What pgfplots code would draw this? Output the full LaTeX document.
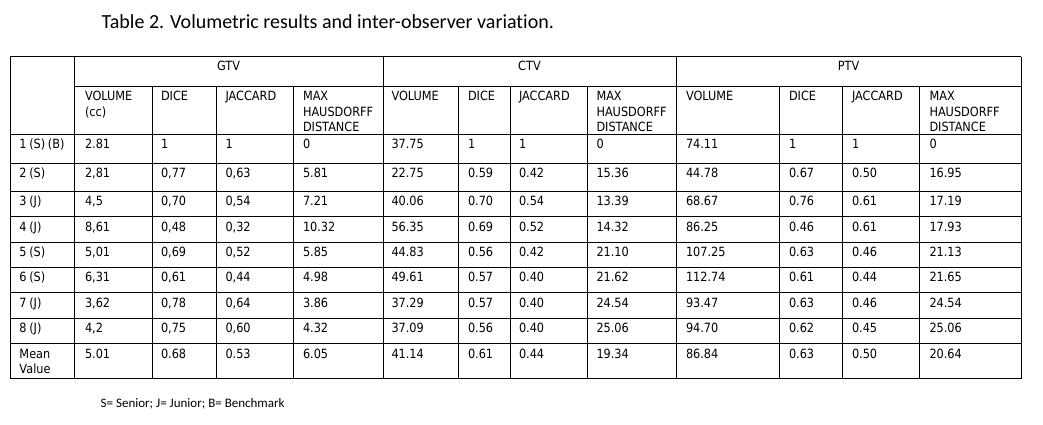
\documentclass[border=0pt]{standalone}
\usepackage{fontspec}
\usepackage{pgfplots}
\usepackage{pgfplotstable}
\pgfplotsset{compat=1.18}
\setmainfont{DejaVu Sans}[FakeStretch=0.89]
\newfontfamily\titlefont{Carlito}[Ligatures=NoCommon]
\newcommand\cellfont{\fontsize{12.7}{15}\selectfont\spaceskip=2.6pt plus 1pt}

\pgfplotstableread[col sep=semicolon,row sep=\\]{
y;c0;g1;g2;g3;g4;c1;c2;c3;c4;p1;p2;p3;p4\\
148.5;1 (S) (B);2.81;1;1;0;37.75;1;1;0;74.11;1;1;0\\
177.5;2 (S);2,81;0,77;0,63;5.81;22.75;0.59;0.42;15.36;44.78;0.67;0.50;16.95\\
205.5;3 (J);4,5;0,70;0,54;7.21;40.06;0.70;0.54;13.39;68.67;0.76;0.61;17.19\\
231;4 (J);8,61;0,48;0,32;10.32;56.35;0.69;0.52;14.32;86.25;0.46;0.61;17.93\\
256.5;5 (S);5,01;0,69;0,52;5.85;44.83;0.56;0.42;21.10;107.25;0.63;0.46;21.13\\
281.5;6 (S);6,31;0,61;0,44;4.98;49.61;0.57;0.40;21.62;112.74;0.61;0.44;21.65\\
307;7 (J);3,62;0,78;0,64;3.86;37.29;0.57;0.40;24.54;93.47;0.63;0.46;24.54\\
332.5;8 (J);4,2;0,75;0,60;4.32;37.09;0.56;0.40;25.06;94.70;0.62;0.45;25.06\\
358;Mean;5.01;0.68;0.53;6.05;41.14;0.61;0.44;19.34;86.84;0.63;0.50;20.64\\
373.3;Value;;;;;;;;;;;;\\
}\body

\pgfplotstableread[col sep=semicolon,row sep=\\]{
x;y;label\\
85;101;VOLUME\\
85;116.3;(cc)\\
161;101;DICE\\
225.5;101;JACCARD\\
303;101;MAX\\
303;116.3;HAUSDORFF\\
303;131.6;DISTANCE\\
391.5;101;VOLUME\\
468;101;DICE\\
519;101;JACCARD\\
596.5;101;MAX\\
596.5;116.3;HAUSDORFF\\
596.5;131.6;DISTANCE\\
686;101;VOLUME\\
789;101;DICE\\
852;101;JACCARD\\
929.5;101;MAX\\
929.5;116.3;HAUSDORFF\\
929.5;131.6;DISTANCE\\
}\heads

\pgfplotstableread[col sep=semicolon,row sep=\\]{
x;y;label\\
228.5;70.7;GTV\\
529.5;70.7;CTV\\
848.5;70.7;PTV\\
}\groups

\begin{document}
\begin{tikzpicture}
\begin{axis}[
  width=1043pt, height=425pt, scale only axis,
  xmin=0, xmax=1043, ymin=0, ymax=425, y dir=reverse,
  axis line style={draw=none}, xtick=\empty, ytick=\empty, clip=false,
  every node near coord/.append style={anchor=base west, inner sep=0pt, outer sep=0pt, text=black, font=\cellfont},
]
% horizontal rules
\addplot[black, line width=1pt] coordinates {(10,57) (1021,57)};
\addplot[black, line width=1pt] coordinates {(74,87) (1021,87)};
\addplot[black, line width=1pt] coordinates {(10,134) (1021,134)};
\addplot[black, line width=1pt] coordinates {(10,163) (1021,163)};
\addplot[black, line width=1pt] coordinates {(10,191) (1021,191)};
\addplot[black, line width=1pt] coordinates {(10,216.5) (1021,216.5)};
\addplot[black, line width=1pt] coordinates {(10,242) (1021,242)};
\addplot[black, line width=1pt] coordinates {(10,267) (1021,267)};
\addplot[black, line width=1pt] coordinates {(10,292.5) (1021,292.5)};
\addplot[black, line width=1pt] coordinates {(10,318) (1021,318)};
\addplot[black, line width=1pt] coordinates {(10,343.5) (1021,343.5)};
\addplot[black, line width=1pt] coordinates {(10,378.5) (1021,378.5)};
% vertical rules
\addplot[black, line width=1pt] coordinates {(10,57) (10,378.5)};
\addplot[black, line width=1pt] coordinates {(74,57) (74,378.5)};
\addplot[black, line width=1pt] coordinates {(383,57) (383,378.5)};
\addplot[black, line width=1pt] coordinates {(676,57) (676,378.5)};
\addplot[black, line width=1pt] coordinates {(1021,57) (1021,378.5)};
\addplot[black, line width=1pt] coordinates {(152,87) (152,378.5)};
\addplot[black, line width=1pt] coordinates {(216,87) (216,378.5)};
\addplot[black, line width=1pt] coordinates {(293,87) (293,378.5)};
\addplot[black, line width=1pt] coordinates {(458,87) (458,378.5)};
\addplot[black, line width=1pt] coordinates {(510,87) (510,378.5)};
\addplot[black, line width=1pt] coordinates {(587,87) (587,378.5)};
\addplot[black, line width=1pt] coordinates {(779,87) (779,378.5)};
\addplot[black, line width=1pt] coordinates {(842,87) (842,378.5)};
\addplot[black, line width=1pt] coordinates {(919,87) (919,378.5)};
% cell texts
\addplot[draw=none, mark=none, nodes near coords, point meta=explicit symbolic] table[x expr=19.5, y=y, meta=c0] {\body};
\addplot[draw=none, mark=none, nodes near coords, point meta=explicit symbolic] table[x expr=85, y=y, meta=g1] {\body};
\addplot[draw=none, mark=none, nodes near coords, point meta=explicit symbolic] table[x expr=161, y=y, meta=g2] {\body};
\addplot[draw=none, mark=none, nodes near coords, point meta=explicit symbolic] table[x expr=225.5, y=y, meta=g3] {\body};
\addplot[draw=none, mark=none, nodes near coords, point meta=explicit symbolic] table[x expr=303, y=y, meta=g4] {\body};
\addplot[draw=none, mark=none, nodes near coords, point meta=explicit symbolic] table[x expr=391.5, y=y, meta=c1] {\body};
\addplot[draw=none, mark=none, nodes near coords, point meta=explicit symbolic] table[x expr=468, y=y, meta=c2] {\body};
\addplot[draw=none, mark=none, nodes near coords, point meta=explicit symbolic] table[x expr=519, y=y, meta=c3] {\body};
\addplot[draw=none, mark=none, nodes near coords, point meta=explicit symbolic] table[x expr=596.5, y=y, meta=c4] {\body};
\addplot[draw=none, mark=none, nodes near coords, point meta=explicit symbolic] table[x expr=686, y=y, meta=p1] {\body};
\addplot[draw=none, mark=none, nodes near coords, point meta=explicit symbolic] table[x expr=789, y=y, meta=p2] {\body};
\addplot[draw=none, mark=none, nodes near coords, point meta=explicit symbolic] table[x expr=852, y=y, meta=p3] {\body};
\addplot[draw=none, mark=none, nodes near coords, point meta=explicit symbolic] table[x expr=929.5, y=y, meta=p4] {\body};
\addplot[draw=none, mark=none, nodes near coords, point meta=explicit symbolic] table[x=x, y=y, meta=label] {\heads};
\addplot[draw=none, mark=none, nodes near coords, point meta=explicit symbolic,
  every node near coord/.append style={anchor=base}] table[x=x, y=y, meta=label] {\groups};
% title and footnote
\node[anchor=base west, inner sep=0pt, font=\titlefont\fontsize{20}{24}\selectfont] at (axis cs:101.5,29) {Table 2. Volumetric results and inter-observer variation.};
\node[anchor=base west, inner sep=0pt, font=\titlefont\fontsize{13}{16}\selectfont] at (axis cs:100.5,407.7) {S= Senior; J= Junior; B= Benchmark};
\end{axis}
\end{tikzpicture}
\end{document}
